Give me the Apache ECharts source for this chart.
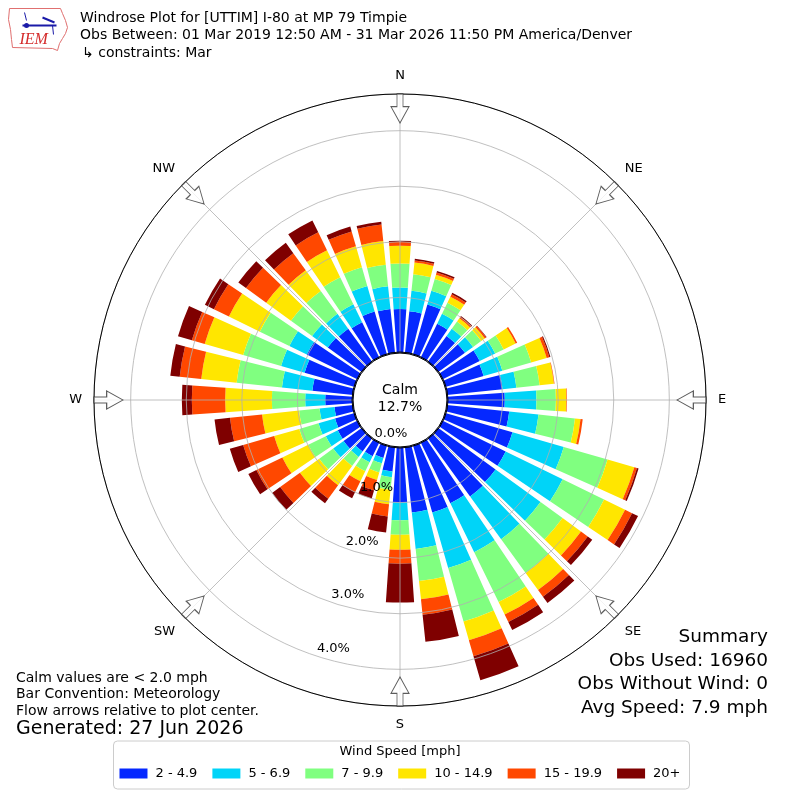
<!DOCTYPE html>
<html>
<head>
<meta charset="utf-8">
<script src="https://cdn.jsdelivr.net/npm/echarts@6/dist/echarts.min.js"></script>
<style>html,body{margin:0;padding:0;background:#fff}#c{width:800px;height:800px}</style>
</head>
<body>
<div id="c"></div>
<script>
// Directions (degrees clockwise from north), one bar each
const directions = ['0','10','20','30','40','50','60','70','80','90','100','110','120','130','140','150','160','170',
  '180','190','200','210','220','230','240','250','260','270','280','290','300','310','320','330','340','350'];

// Frequency (%) per speed bin, indexed by direction above
const bin2to5   = [0.79,0.76,0.94,0.68,0.58,0.60,0.75,0.72,1.01,1.04,1.13,1.26,1.27,1.28,1.30,1.22,1.26,1.19,1.00,0.45,0.24,0.28,0.30,0.41,0.40,0.37,0.34,0.50,0.74,0.94,1.02,0.76,0.74,0.71,0.81,0.80];
const bin5to7   = [0.39,0.37,0.26,0.20,0.16,0.18,0.31,0.35,0.25,0.57,0.53,0.96,1.14,1.00,0.95,0.98,1.04,0.66,0.32,0.10,0.10,0.12,0.12,0.23,0.24,0.31,0.27,0.36,0.55,0.44,0.35,0.35,0.33,0.36,0.48,0.41];
const bin7to10  = [0.43,0.30,0.22,0.22,0.16,0.18,0.17,0.54,0.42,0.35,0.66,0.82,0.83,0.49,0.75,1.00,1.00,0.58,0.26,0.23,0.17,0.18,0.20,0.31,0.35,0.36,0.37,0.60,0.82,0.71,0.59,0.47,0.51,0.54,0.35,0.39];
const bin10to15 = [0.32,0.21,0.08,0.12,0.07,0.08,0.24,0.29,0.26,0.19,0.10,0.50,0.42,0.41,0.38,0.25,0.35,0.33,0.27,0.26,0.14,0.20,0.43,0.43,0.52,0.47,0.67,0.84,0.64,0.72,0.62,0.55,0.46,0.54,0.39,0.43];
const bin15to20 = [0.07,0.04,0.04,0.05,0.03,0.03,0.03,0.05,0.01,0.01,0.04,0.05,0.14,0.15,0.15,0.15,0.30,0.28,0.25,0.22,0.20,0.22,0.30,0.44,0.52,0.58,0.58,0.60,0.39,0.24,0.30,0.45,0.38,0.36,0.28,0.30];
const bin20up   = [0.02,0.03,0.03,0.03,0.02,0.01,0.00,0.02,0.00,0.00,0.00,0.03,0.12,0.10,0.14,0.16,0.45,0.49,0.70,0.29,0.15,0.12,0.10,0.18,0.16,0.25,0.28,0.18,0.17,0.26,0.18,0.17,0.23,0.24,0.09,0.05];

const binNames  = ['2 - 4.9','5 - 6.9','7 - 9.9','10 - 14.9','15 - 19.9','20+'];
const binColors = ['#0528ff','#00d4f8','#80ff80','#ffe600','#ff4800','#7f0000'];
const binValues = [bin2to5, bin5to7, bin7to10, bin10to15, bin15to20, bin20up];

// Compass labels and flow arrows
const compassAngles = [0,45,90,135,180,225,270,315];
const compassLabels = ['N','NE','E','SE','S','SW','W','NW'];
const arrowRadius = 4.40;
const radialMax = 4.66;

const titleLines = ['Windrose Plot for [UTTIM] I-80 at MP 79 Timpie',
  'Obs Between: 01 Mar 2019 12:50 AM - 31 Mar 2026 11:50 PM America/Denver',
  '\u21b3 constraints: Mar'];
const noteLines = ['Calm values are < 2.0 mph','Bar Convention: Meteorology','Flow arrows relative to plot center.'];
const generatedText = 'Generated: 27 Jun 2026';
const summaryLines = ['Summary','Obs Used: 16960','Obs Without Wind: 0','Avg Speed: 7.9 mph'];
const calmText = 'Calm\n12.7%';

const FONT = 'DejaVu Sans';
const chart = echarts.init(document.getElementById('c'), null, {renderer:'canvas'});

const barSeries = binNames.map((name, i) => ({
  type: 'bar', name: name, coordinateSystem: 'polar', polarIndex: 0,
  stack: 'wind', data: binValues[i], barCategoryGap: '20%',
  itemStyle: {color: binColors[i]}, z: 2, silent: true
}));

const arrowSeries = {
  type: 'scatter', coordinateSystem: 'polar', polarIndex: 1, silent: true, z: 10,
  symbol: 'path://M6,0 L12,0 L12,12.7 L18,12.7 L9,29 L0,12.7 L6,12.7 Z',
  symbolSize: [18, 29],
  itemStyle: {color: '#ffffff', borderColor: '#333333', borderWidth: 1},
  data: compassAngles.map(a => ({value: [arrowRadius, a], symbolRotate: -a}))
};

const graphics = [];
titleLines.forEach((t, i) => graphics.push({
  type: 'text', left: i === 2 ? 82 : 80, top: 11 + i * 17.5,
  style: {text: t, font: '14px "' + FONT + '"', fill: '#000'}
}));
noteLines.forEach((t, i) => graphics.push({
  type: 'text', left: 16, top: 671 + i * 16.5,
  style: {text: t, font: '14px "' + FONT + '"', fill: '#000'}
}));
graphics.push({type: 'text', left: 16, top: 720, style: {text: generatedText, font: '19px "' + FONT + '"', fill: '#000'}});
summaryLines.forEach((t, i) => graphics.push({
  type: 'text', right: 32, top: 628 + i * 23.5,
  style: {text: t, font: '18.5px "' + FONT + '"', fill: '#000', align: 'right'}
}));
graphics.push({type: 'text', x: 400, y: 399, z: 20,
  style: {text: calmText, font: '14px "' + FONT + '"', fill: '#000', align: 'center', verticalAlign: 'middle', lineHeight: 17}});
graphics.push({type: 'text', x: 400, y: 752, z: 20,
  style: {text: 'Wind Speed [mph]', font: '13px "' + FONT + '"', fill: '#000', align: 'center', verticalAlign: 'middle'}});
// IEM logo
graphics.push({type: 'group', left: 6, top: 6, children: [
  {type: 'polyline', shape: {points: [[1,1],[52,1],[54,6],[57,13],[59,20],[57,26],[54,31],[51,36],[49,43],[44,41],[4,40],[3,32],[2,22],[0,12],[1,1]]},
   style: {stroke: '#e07070', lineWidth: 1, fill: null}},
  {type: 'line', shape: {x1: 14, y1: 18, x2: 48, y2: 18}, style: {stroke: '#1a1aa8', lineWidth: 2}},
  {type: 'circle', shape: {cx: 18, cy: 18, r: 2.5}, style: {fill: '#1a1aa8'}},
  {type: 'line', shape: {x1: 34, y1: 10, x2: 46, y2: 15}, style: {stroke: '#1a1aa8', lineWidth: 2}},
  {type: 'line', shape: {x1: 44, y1: 18, x2: 45, y2: 27}, style: {stroke: '#1a1aa8', lineWidth: 1}},
  {type: 'line', shape: {x1: 16, y1: 5, x2: 18, y2: 13}, style: {stroke: '#1a1aa8', lineWidth: 1}},
  {type: 'text', x: 11, y: 24, style: {text: 'IEM', font: 'italic 16px "Liberation Serif"', fill: '#d42a2a'}}
]});

const option = {
  animation: false,
  backgroundColor: '#ffffff',
  textStyle: {fontFamily: FONT},
  polar: [
    {center: ['50%','50%'], radius: [47, 306]},
    {center: ['50%','50%'], radius: [47, 306]},
    {center: ['50%','50%'], radius: [35, 294]},
    {center: ['50%','50%'], radius: [0, 48]}
  ],
  angleAxis: [
    {polarIndex: 0, type: 'category', data: directions, startAngle: 95, clockwise: true,
     axisLine: {show: false}, axisTick: {show: false}, axisLabel: {show: false}, splitLine: {show: false}},
    {polarIndex: 1, type: 'value', min: 0, max: 360, interval: 45, startAngle: 90, clockwise: true, z: 5,
     axisLine: {show: true, lineStyle: {color: '#000', width: 1}}, axisTick: {show: false},
     axisLabel: {show: true, margin: 12, fontSize: 13, color: '#000', fontFamily: FONT,
       formatter: v => { const k = compassAngles.indexOf(v); return k >= 0 ? compassLabels[k] : ''; }},
     splitLine: {show: true, lineStyle: {color: '#b0b0b0', width: 0.8}}},
    {polarIndex: 2, type: 'value', min: 0, max: 360, startAngle: 255, clockwise: true,
     axisLine: {show: false}, axisTick: {show: false}, axisLabel: {show: false}, splitLine: {show: false}},
    {polarIndex: 3, type: 'value', min: 0, max: 360, startAngle: 90, z: 6,
     axisLine: {show: true, lineStyle: {color: '#000', width: 1}}, axisTick: {show: false}, axisLabel: {show: false}, splitLine: {show: false}}
  ],
  radiusAxis: [
    {polarIndex: 0, type: 'value', min: 0, max: radialMax, axisLine: {show: false}, axisTick: {show: false}, axisLabel: {show: false}, splitLine: {show: false}},
    {polarIndex: 1, type: 'value', min: 0, max: radialMax, interval: 1, z: 5,
     axisLine: {show: false}, axisTick: {show: false}, axisLabel: {show: false},
     splitLine: {show: true, lineStyle: {color: '#b0b0b0', width: 0.8}}},
    {polarIndex: 2, type: 'value', min: 0, max: radialMax, interval: 1, z: 7,
     axisLine: {show: false}, axisTick: {show: false}, splitLine: {show: false},
     axisLabel: {show: true, margin: 0, align: 'center', verticalAlign: 'middle', fontSize: 13, color: '#000', fontFamily: FONT,
       formatter: v => (Math.abs(v - Math.round(v)) < 1e-6 ? v.toFixed(1) + '%' : '')}},
    {polarIndex: 3, type: 'value', min: 0, max: 1, axisLine: {show: false}, axisTick: {show: false}, axisLabel: {show: false}, splitLine: {show: false}}
  ],
  legend: {
    data: binNames, left: 'center', top: 741, orient: 'horizontal',
    itemWidth: 28, itemHeight: 10, itemGap: 15, icon: 'rect',
    padding: [26, 9, 9, 6], borderColor: '#cccccc', borderWidth: 1, borderRadius: 4,
    textStyle: {fontSize: 13, color: '#000', fontFamily: FONT, padding: [0, 0, 0, 3]},
    selectedMode: false
  },
  graphic: graphics,
  series: barSeries.concat([arrowSeries])
};
chart.setOption(option);
</script>
</body>
</html>
